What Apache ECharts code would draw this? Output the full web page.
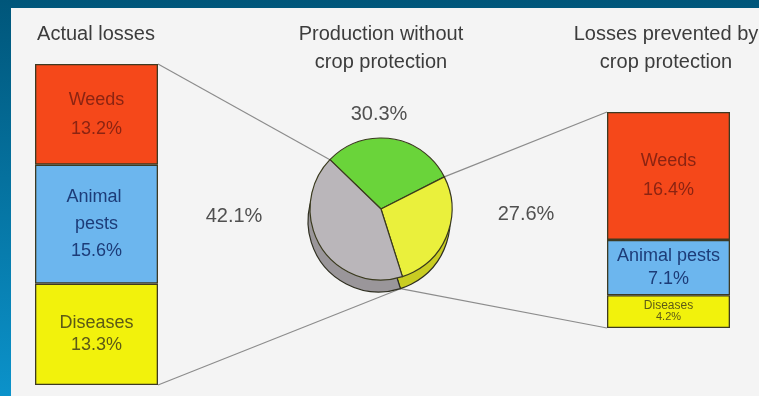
<!DOCTYPE html>
<html><head><meta charset="utf-8">
<script src="https://cdn.jsdelivr.net/npm/echarts@6/dist/echarts.min.js"></script>
<style>html,body{margin:0;padding:0;}#c{width:759px;height:396px;}</style>
</head><body><div id="c"></div>
<script>
// ---- data ----
const categories = ['Weeds', 'Animal pests', 'Diseases'];
const actualLosses = [13.2, 15.6, 13.3];
const preventedLosses = [16.4, 7.1, 4.2];
const pieNames = ['Actual production', 'Losses prevented', 'Actual losses'];
const pieValues = [30.3, 27.6, 42.1];
const titles = ['Actual losses', 'Production without\ncrop protection', 'Losses prevented by\ncrop protection'];

// ---- styles ----
const FONT = 'Liberation Sans, Arial, sans-serif';
const fill = { 'Weeds': '#f5481a', 'Animal pests': '#6cb6ee', 'Diseases': '#f2f20c' };
const txt = { 'Weeds': '#8b2412', 'Animal pests': '#1d3c78', 'Diseases': '#5c5a16' };
const leftLH = { 'Weeds': 29, 'Animal pests': 27, 'Diseases': 22 };
const rightLH = { 'Weeds': 29, 'Animal pests': 23, 'Diseases': 11 };
const pieTop = ['#6ad43a', '#eaf03c', '#bab6ba'];
const pieSide = ['#56ad2c', '#c9cd22', '#9a969a'];

const GL = { left: 35, top: 64, width: 123, height: 321 };
const GR = { left: 607, top: 112, width: 123, height: 216 };
const PC = [381, 209], PB = [379, 221], PR = 71, START = 136;

const sum = a => a.reduce((s, v) => s + v, 0);
const fmt = v => v.toFixed(1) + '%';

const series = [];
// stack from bottom: Diseases, Animal pests, Weeds
[...categories].reverse().forEach(cat => {
  const i = categories.indexOf(cat);
  series.push({
    type: 'bar', name: cat, xAxisIndex: 0, yAxisIndex: 0, stack: 'L', barWidth: '100%',
    data: [actualLosses[i]], silent: true,
    itemStyle: { color: fill[cat], borderColor: '#3d3a22', borderWidth: 1.3 },
    label: { show: true, position: 'inside', width: 80, overflow: 'break',
      formatter: p => cat + '\n' + fmt(p.value),
      fontFamily: FONT, fontSize: 18, lineHeight: leftLH[cat], color: txt[cat] }
  });
  series.push({
    type: 'bar', name: cat, xAxisIndex: 1, yAxisIndex: 1, stack: 'R', barWidth: '100%',
    data: [preventedLosses[i]], silent: true,
    itemStyle: { color: fill[cat], borderColor: '#3d3a22', borderWidth: 1.3 },
    label: cat === 'Diseases'
      ? { show: true, position: 'inside', formatter: p => '{a|' + cat + '}\n{b|' + fmt(p.value) + '}',
          rich: { a: { fontFamily: FONT, fontSize: 12, lineHeight: 11, color: txt[cat] },
                  b: { fontFamily: FONT, fontSize: 11, lineHeight: 11, color: txt[cat] } } }
      : { show: true, position: 'inside', formatter: p => cat + '\n' + fmt(p.value),
          fontFamily: FONT, fontSize: 18, lineHeight: rightLH[cat], color: txt[cat] }
  });
});

const pieData = (cols) => pieNames.map((n, i) => ({ name: n, value: pieValues[i], itemStyle: { color: cols[i] } }));
series.push({
  type: 'pie', center: PB, radius: PR, startAngle: START, clockwise: true, silent: true, z: 2,
  label: { show: false }, labelLine: { show: false },
  itemStyle: { borderColor: '#2e2e20', borderWidth: 1.2 }, data: pieData(pieSide)
});
series.push({
  type: 'pie', center: PC, radius: PR, startAngle: START, clockwise: true, silent: true, z: 3,
  label: { show: false }, labelLine: { show: false },
  itemStyle: { borderColor: '#3a3a1e', borderWidth: 1.2 }, data: pieData(pieTop)
});

const chart = echarts.init(document.getElementById('c'), null, { renderer: 'canvas' });
chart.setOption({
  animation: false,
  backgroundColor: { type: 'linear', x: 0, y: 0, x2: 0, y2: 1,
    colorStops: [{ offset: 0, color: '#00567a' }, { offset: 1, color: '#0b92ca' }] },
  grid: [GL, GR],
  xAxis: [
    { type: 'category', gridIndex: 0, data: ['L'], show: false },
    { type: 'category', gridIndex: 1, data: ['R'], show: false }
  ],
  yAxis: [
    { type: 'value', gridIndex: 0, min: 0, max: +sum(actualLosses).toFixed(1), show: false },
    { type: 'value', gridIndex: 1, min: 0, max: +sum(preventedLosses).toFixed(1), show: false }
  ],
  series: series
});

// ---- connectors & texts ----
const yL0 = chart.convertToPixel({ yAxisIndex: 0 }, 0);
const yL1 = chart.convertToPixel({ yAxisIndex: 0 }, sum(actualLosses));
const yR0 = chart.convertToPixel({ yAxisIndex: 1 }, 0);
const yR1 = chart.convertToPixel({ yAxisIndex: 1 }, sum(preventedLosses));
const xLr = GL.left + GL.width, xRl = GR.left;
const ang = [START];
pieValues.forEach(v => ang.push(ang[ang.length - 1] - v / sum(pieValues) * 360));
const pt = (c, a) => [c[0] + PR * Math.cos(a * Math.PI / 180), c[1] - PR * Math.sin(a * Math.PI / 180)];
const pA = pt(PC, ang[0]);   // green / grey boundary
const pC = pt(PC, ang[1]);   // green / yellow boundary
const pB = pt(PB, ang[2]);   // yellow / grey boundary (lower rim)

const lineStyle = { stroke: '#8c8c8c', lineWidth: 1.2 };
const mkLine = (a, b) => ({ type: 'line', z: 1, silent: true, shape: { x1: a[0], y1: a[1], x2: b[0], y2: b[1] }, style: lineStyle });
const mkText = (t, x, y, size, color, lh) => ({ type: 'text', z: 5, silent: true, x: x, y: y,
  style: { text: t, fill: color, font: size + 'px ' + FONT, align: 'center', verticalAlign: 'middle', lineHeight: lh || size } });

chart.setOption({
  graphic: [
    { type: 'rect', z: 0, silent: true, shape: { x: 11, y: 8, width: 760, height: 400 }, style: { fill: '#f4f4f4' } },
    mkLine([xLr, yL1], pA),
    mkLine([xLr, yL0], pB),
    mkLine(pC, [xRl, yR1]),
    mkLine(pB, [xRl, yR0]),
    mkText(titles[0], 96, 34, 20, '#3c3c3c'),
    mkText(titles[1], 381, 48, 20, '#3c3c3c', 28),
    mkText(titles[2], 666, 48, 20, '#3c3c3c', 28),
    mkText(fmt(pieValues[0]), 379, 114, 20, '#505050'),
    mkText(fmt(pieValues[2]), 234, 216, 20, '#505050'),
    mkText(fmt(pieValues[1]), 526, 214, 20, '#505050')
  ]
});
</script>
</body></html>
